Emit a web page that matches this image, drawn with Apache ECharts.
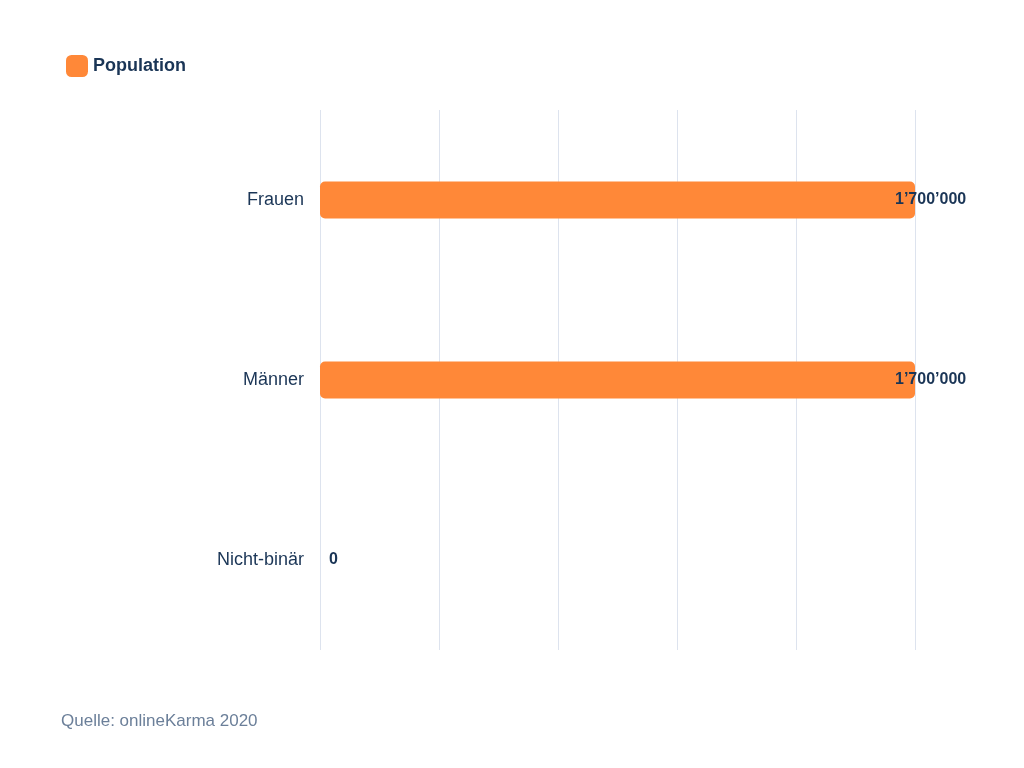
<!DOCTYPE html>
<html><head><meta charset="utf-8">
<script src="https://cdn.jsdelivr.net/npm/echarts@6/dist/echarts.min.js"></script>
<style>html,body{margin:0;padding:0;background:#fff}#c{width:1024px;height:768px}</style>
</head><body><div id="c"></div>
<script>
const categories = ['Frauen', 'Männer', 'Nicht-binär'];
const values = [1700000, 1700000, 0];
const seriesName = 'Population';
const source = 'Quelle: onlineKarma 2020';

function fmt(v){ return String(v).replace(/\B(?=(\d{3})+(?!\d))/g, '’'); }

const chart = echarts.init(document.getElementById('c'));
chart.setOption({
  animation: false,
  textStyle: { fontFamily: 'Liberation Sans, Arial, sans-serif' },
  legend: {
    left: 61, top: 50, itemWidth: 22, itemHeight: 22, itemGap: 8,
    icon: 'roundRect',
    textStyle: { color: '#1a3556', fontSize: 18, fontWeight: 'bold' },
    data: [seriesName]
  },
  graphic: [{ type: 'text', left: 61, top: 713,
    style: { text: source, fill: '#6b7f99', fontSize: 17, fontFamily: 'Liberation Sans, Arial, sans-serif' } }],
  grid: { left: 320, right: 109, top: 110, bottom: 118 },
  xAxis: {
    type: 'value', min: 0, max: 1700000, interval: 340000,
    axisLabel: { show: false }, axisLine: { show: false }, axisTick: { show: false },
    splitLine: { lineStyle: { color: '#dde3ee', width: 1 } }
  },
  yAxis: {
    type: 'category', inverse: true, data: categories,
    axisLine: { show: false }, axisTick: { show: false },
    axisLabel: { color: '#1a3556', fontSize: 18, margin: 16 }
  },
  series: [{
    name: seriesName, type: 'bar', barWidth: 37,
    itemStyle: { color: '#ff8838', borderRadius: 5 },
    data: values.map(v => ({ value: v, label: { offset: v === 0 ? [4, 0] : [-25, 0] } })),
    label: { show: true, position: 'right', color: '#1a3556', fontSize: 16, fontWeight: 'bold',
      formatter: p => fmt(p.value) }
  }]
});
</script></body></html>
